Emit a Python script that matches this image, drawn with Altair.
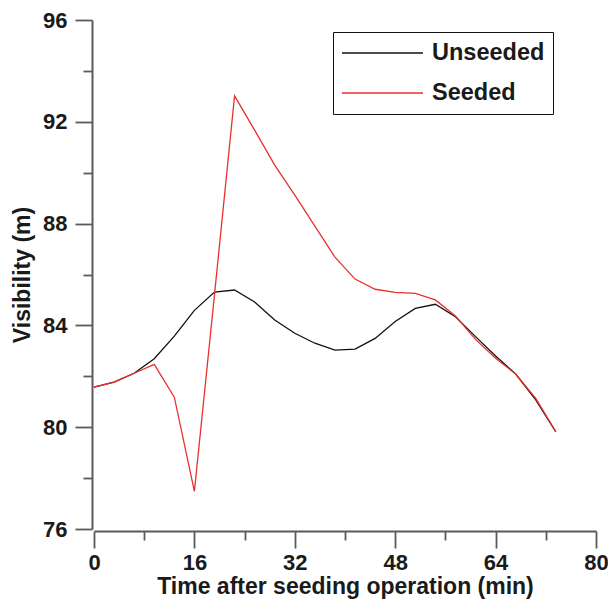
import altair as alt
import pandas as pd

time_min = [0, 3.2, 6.4, 9.6, 12.8, 16, 19.2, 22.4, 25.6, 28.8, 32, 35.2,
            38.4, 41.6, 44.8, 48, 51.2, 54.4, 57.6, 60.8, 64, 67.2, 70.4, 73.6]
unseeded = [81.57, 81.77, 82.12, 82.69, 83.58, 84.59, 85.31, 85.39, 84.92, 84.21,
            83.69, 83.30, 83.03, 83.07, 83.49, 84.15, 84.67, 84.83, 84.34, 83.56,
            82.80, 82.09, 81.07, 79.82]
seeded = [81.57, 81.77, 82.12, 82.47, 81.18, 77.48, 85.2, 93.02, 91.67, 90.30,
          89.12, 87.90, 86.68, 85.82, 85.42, 85.30, 85.26, 85.00, 84.37, 83.45,
          82.71, 82.09, 81.13, 79.82]
series_names = ["Unseeded", "Seeded"]
series_colors = ["#111111", "#e8312f"]
x_ticks = [0, 8, 16, 24, 32, 40, 48, 56, 64, 72, 80]
y_ticks = [76, 78, 80, 82, 84, 86, 88, 90, 92, 94, 96]

rows = []
for t, u, s in zip(time_min, unseeded, seeded):
    rows.append({"t": t, "v": u, "series": "Unseeded"})
    rows.append({"t": t, "v": s, "series": "Seeded"})
df = pd.DataFrame(rows)

FONT = "Liberation Sans"
AX = "#5a5a5a"
TXT = "#1a1a1a"

chart = alt.Chart(df).mark_line(strokeWidth=1.3).encode(
    x=alt.X("t:Q", scale=alt.Scale(domain=[0, 80], nice=False, zero=False),
            axis=alt.Axis(values=x_ticks, title="Time after seeding operation (min)",
                          labelExpr="datum.value % 16 === 0 ? datum.label : ''",
                          tickSize=alt.ExprRef("datum.value % 16 === 0 ? 17 : 9"),
                          offset=2, grid=False, labelPadding=4, titlePadding=2,
                          labelFlush=False)),
    y=alt.Y("v:Q", scale=alt.Scale(domain=[76, 96], nice=False, zero=False),
            axis=alt.Axis(values=y_ticks, title="Visibility (m)",
                          labelExpr="datum.value % 4 === 0 ? datum.label : ''",
                          tickSize=alt.ExprRef("datum.value % 4 === 0 ? 17 : 9"),
                          offset=2, grid=False, labelPadding=8, titlePadding=8,
                          labelFlush=False)),
    color=alt.Color("series:N",
                    scale=alt.Scale(domain=series_names, range=series_colors),
                    legend=alt.Legend(title=None, orient="none", legendX=239, legendY=12,
                                      symbolType="stroke", symbolSize=6561,
                                      symbolStrokeWidth=1.3, clipHeight=26,
                                      rowPadding=14, labelOffset=8,
                                      padding=8, strokeColor="#111111",
                                      labelFont=FONT, labelFontSize=23.5,
                                      labelFontWeight="bold", labelColor=TXT,
                                      labelLimit=300)),
    detail="series:N",
    order="t:Q",
).properties(
    width=502, height=509,
    autosize=alt.AutoSizeParams(type="none"),
    padding={"left": 86, "top": 12, "right": 12, "bottom": 80},
).configure_view(stroke=None).configure_axis(
    domainColor=AX, domainWidth=2, tickColor=AX, tickWidth=1.8,
    labelFont=FONT, labelFontSize=22, labelFontWeight="bold", labelColor=TXT,
    titleFont=FONT, titleFontSize=23, titleFontWeight="bold", titleColor=TXT,
)

chart.save("out.html", embed_options={"renderer": "svg", "actions": False})
